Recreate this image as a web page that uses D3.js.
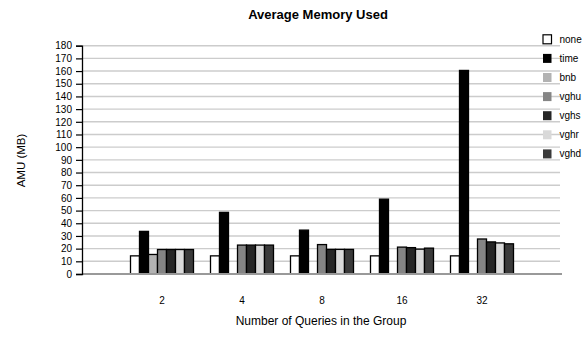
<!DOCTYPE html>
<html><head><meta charset="utf-8">
<script src="https://cdn.jsdelivr.net/npm/d3@7/dist/d3.min.js"></script>
<style>body{margin:0;background:#fff;}svg{display:block;font-family:"Liberation Sans",Arial,sans-serif;}</style>
</head><body><svg id="c" width="587" height="339"></svg>
<script>
const categories = ["2", "4", "8", "16", "32"];
const seriesNames = ["none", "time", "bnb", "vghu", "vghs", "vghr", "vghd"];
const none = [14.3, 14.3, 14.3, 14.3, 14.3];
const time = [33.6, 48.6, 34.6, 59.0, 160.5];
const bnb  = [15.4, 0, 0, 0, 0];
const vghu = [19.3, 22.8, 23.2, 21.2, 27.6];
const vghs = [19.3, 22.8, 19.4, 20.8, 25.3];
const vghr = [19.3, 22.8, 19.4, 19.6, 24.5];
const vghd = [19.3, 22.8, 19.4, 20.4, 23.8];
const yTicks = d3.range(0, 181, 10);
const colors = ["#ffffff", "#000000", "#b2b2b2", "#858585", "#262626", "#d9d9d9", "#3a3a3a"];
const seriesValues = [none, time, bnb, vghu, vghs, vghr, vghd];

const svg = d3.select("#c");
const x = d3.scalePoint().domain(["_a", ...categories, "_b"]).range([82, 562]);
const y = d3.scaleLinear().domain([0, 180]).range([274, 45.7]);
const inner = d3.scaleBand().domain(seriesNames).range([-31.5, 31.5]);

// gridlines
svg.append("g").selectAll("line").data(yTicks.filter(d => d > 0)).join("line")
  .attr("x1", 82).attr("x2", 560)
  .attr("y1", d => y(d)).attr("y2", d => y(d))
  .attr("stroke", "#cccccc").attr("stroke-width", 1.4);

// bars
const data = [];
categories.forEach((c, i) => seriesNames.forEach((s, j) => data.push({c, s, v: seriesValues[j][i], col: colors[j]})));
svg.append("g").selectAll("rect").data(data).join("rect")
  .attr("x", d => x(d.c) + inner(d.s))
  .attr("width", inner.bandwidth())
  .attr("y", d => y(d.v))
  .attr("height", d => y(0) - y(d.v))
  .attr("fill", d => d.col)
  .attr("stroke", "#000").attr("stroke-width", 1.3);

// x baseline
svg.append("line").attr("x1", 82).attr("x2", 562).attr("y1", y(0)).attr("y2", y(0))
  .attr("stroke", "#999").attr("stroke-width", 2);

// y axis
const ya = svg.append("g").attr("transform", "translate(82,0)")
  .call(d3.axisLeft(y).tickValues(yTicks).tickSize(6).tickPadding(4));
ya.select(".domain").attr("stroke", "#000").attr("stroke-width", 1.3);
ya.selectAll(".tick line").attr("stroke", "#000").attr("stroke-width", 1.2);
ya.selectAll("text").attr("font-size", 10).attr("font-family", "Liberation Sans, Arial, sans-serif").attr("fill", "#000");

// x tick labels
svg.append("g").selectAll("text").data(categories).join("text")
  .attr("x", d => x(d)).attr("y", 304).attr("text-anchor", "middle")
  .attr("font-size", 10).text(d => d);

// titles
svg.append("text").attr("x", 318).attr("y", 18.5).attr("text-anchor", "middle")
  .attr("font-size", 13).attr("font-weight", "bold").text("Average Memory Used");
svg.append("text").attr("x", 321).attr("y", 325).attr("text-anchor", "middle")
  .attr("font-size", 12).text("Number of Queries in the Group");
svg.append("text").attr("transform", "translate(25,160.5) rotate(-90)").attr("text-anchor", "middle")
  .attr("font-size", 11.5).text("AMU (MB)");

// legend
const lg = svg.append("g").selectAll("g").data(seriesNames).join("g")
  .attr("transform", (d, i) => `translate(543,${39.3 + i * 19.1})`);
lg.append("rect").attr("x", 0).attr("y", -4.5).attr("width", 8.5).attr("height", 9)
  .attr("fill", (d, i) => colors[i]).attr("stroke", (d, i) => i === 0 ? "#000" : "none").attr("stroke-width", 1.2);
lg.append("text").attr("x", 16.5).attr("y", 3.5).attr("font-size", 10).text(d => d);
</script></body></html>
